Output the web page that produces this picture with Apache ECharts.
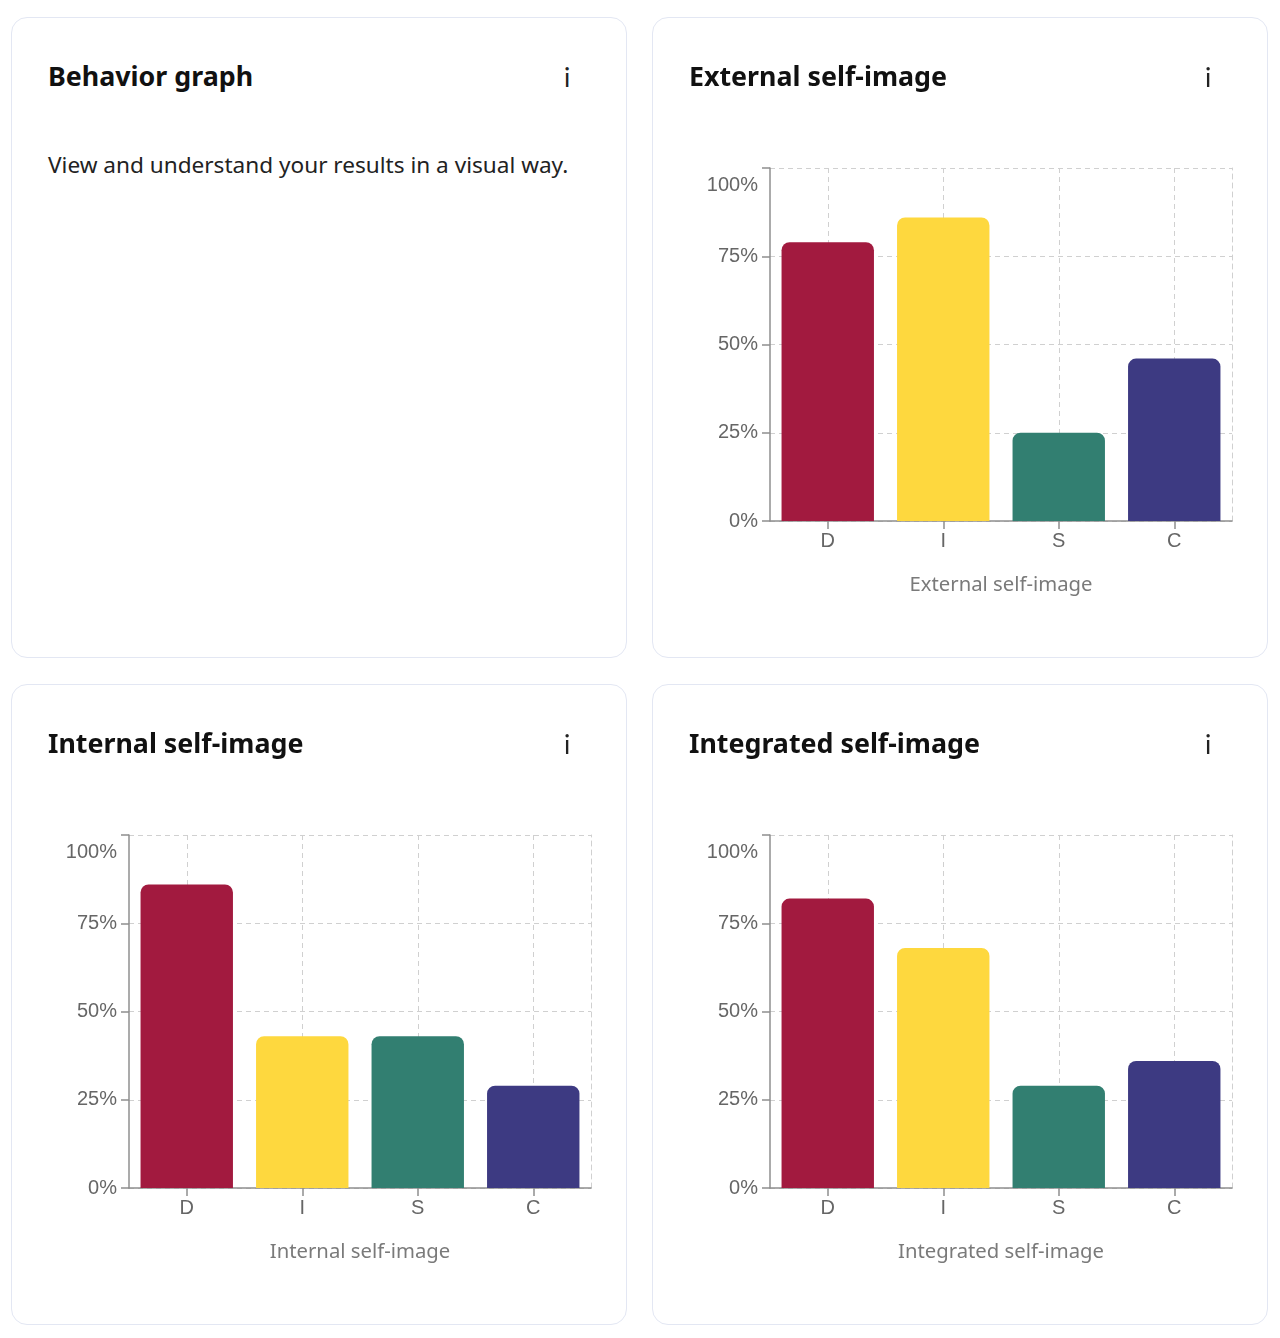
<!DOCTYPE html>
<html>
<head>
<meta charset="utf-8">
<script src="https://cdn.jsdelivr.net/npm/echarts@6/dist/echarts.min.js"></script>
<style>
  html, body { margin: 0; padding: 0; background: #ffffff; }
  body { width: 1280px; height: 1338px; position: relative; overflow: hidden; font-family: "Noto Sans", Lato, sans-serif; }
  .card { position: absolute; box-sizing: border-box; width: 616px; height: 641px; border: 1px solid #e3e7f3; border-radius: 16px; background: #fff; }
  .title { position: absolute; left: 36px; top: 45px; font-size: 26.8px; line-height: 26.8px; font-weight: 700; color: #111; z-index: 2; white-space: nowrap; }
  .info { position: absolute; left: 545px; width: 20px; top: 46px; font-family: Lato, sans-serif; font-size: 26px; line-height: 26px; text-align: center; color: #222; z-index: 2; }
  .desc { position: absolute; left: 36px; top: 136px; font-size: 22.6px; line-height: 22.6px; color: #222; z-index: 2; white-space: nowrap; }
  .chart { position: absolute; left: 0; top: 0; width: 616px; height: 641px; z-index: 1; }
</style>
</head>
<body>
<div class="card" style="left:11px; top:17px;">
  <div class="title">Behavior graph</div>
  <div class="info">i</div>
  <div class="desc">View and understand your results in a visual way.</div>
</div>
<div class="card" style="left:652px; top:17px;">
  <div class="title">External self-image</div>
  <div class="info">i</div>
  <div class="chart" id="chartExternal"></div>
</div>
<div class="card" style="left:11px; top:684px;">
  <div class="title">Internal self-image</div>
  <div class="info">i</div>
  <div class="chart" id="chartInternal"></div>
</div>
<div class="card" style="left:652px; top:684px;">
  <div class="title">Integrated self-image</div>
  <div class="info">i</div>
  <div class="chart" id="chartIntegrated"></div>
</div>
<script>
// ---- data ----
const categories = ['D', 'I', 'S', 'C'];
const externalValues = [79, 86, 25, 46];
const internalValues = [86, 43, 43, 29];
const integratedValues = [82, 68, 29, 36];
const yTickValues = [0, 25, 50, 75, 100];

// ---- styles ----
const barColors = ['#a21a3f', '#fed83e', '#327f71', '#3d3a82'];
const axisColor = '#8f8f8f';
const gridColor = '#d0d0d0';

function buildOption(name, values) {
  return {
    animation: false,
    grid: { left: 117, right: 37, top: 150, bottom: 138 },
    xAxis: [{
      type: 'category',
      data: categories,
      boundaryGap: true,
      axisLine: { show: true, lineStyle: { color: axisColor, width: 1.5 } },
      axisTick: { show: true, alignWithLabel: true, length: 8, lineStyle: { color: axisColor, width: 1.5 } },
      axisLabel: { fontFamily: 'Liberation Sans', fontSize: 20, color: '#666', margin: 10 },
      splitLine: { show: true, alignWithLabel: true, lineStyle: { type: [5, 4], color: gridColor, width: 1 } },
      name: name,
      nameLocation: 'middle',
      nameGap: 54,
      nameTextStyle: { fontFamily: 'Noto Sans', fontSize: 20.3, color: '#7a7a7a' }
    }],
    yAxis: [{
      type: 'value',
      min: yTickValues[0],
      max: yTickValues[yTickValues.length - 1],
      interval: yTickValues[1] - yTickValues[0],
      axisLine: { show: true, lineStyle: { color: axisColor, width: 1.5 } },
      axisTick: { show: true, length: 8, lineStyle: { color: axisColor, width: 1.5 } },
      axisLabel: {
        fontFamily: 'Liberation Sans', fontSize: 20, color: '#666', margin: 12,
        formatter: function (v) { return v === 100 ? '{top|' + v + '%}' : v + '%'; },
        rich: { top: { fontFamily: 'Liberation Sans', fontSize: 20, color: '#666', padding: [34, 0, 0, 0] } }
      },
      splitLine: { show: true, lineStyle: { type: [5, 4], color: gridColor, width: 1 } }
    }, {
      type: 'value',
      position: 'right',
      min: yTickValues[0],
      max: yTickValues[yTickValues.length - 1],
      interval: yTickValues[1] - yTickValues[0],
      axisLine: { show: true, lineStyle: { type: [5, 4], color: gridColor, width: 1 } },
      axisTick: { show: false },
      axisLabel: { show: false },
      splitLine: { show: false }
    }],
    series: [{
      type: 'bar',
      barCategoryGap: '20%',
      data: values.map(function (v, i) { return { value: v, itemStyle: { color: barColors[i] } }; }),
      itemStyle: { borderRadius: [8, 8, 0, 0] }
    }]
  };
}

[['chartExternal', 'External self-image', externalValues],
 ['chartInternal', 'Internal self-image', internalValues],
 ['chartIntegrated', 'Integrated self-image', integratedValues]].forEach(function (c) {
  const chart = echarts.init(document.getElementById(c[0]), null, { renderer: 'canvas' });
  chart.setOption(buildOption(c[1], c[2]));
});
</script>
</body>
</html>
